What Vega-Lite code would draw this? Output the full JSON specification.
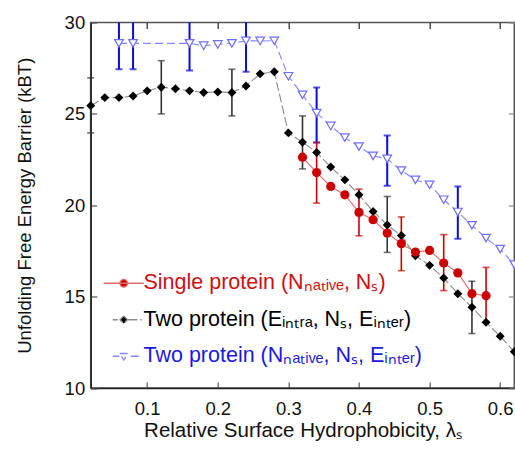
{
  "$schema": "https://vega.github.io/schema/vega-lite/v6.json",
  "width": 423.6,
  "height": 365.5,
  "autosize": {"type": "none"},
  "padding": {"left": 90.7, "top": 22.5, "right": 0.7, "bottom": 61},
  "background": "white",
  "config": {
    "view": {"stroke": "#555", "strokeWidth": 1.5},
    "font": "Liberation Sans",
    "axis": {"grid": false, "labelFont": "Liberation Sans", "titleFont": "Liberation Sans", "labelColor": "#111", "titleColor": "#111", "titleFontWeight": "normal", "domainColor": "#222", "domainWidth": 1.5, "tickColor": "#555", "tickWidth": 1.2}
  },
  "datasets": {
    "pts": [
      {"series": "single", "x": 0.32, "y": 22.63},
      {"series": "single", "x": 0.34, "y": 21.79, "lo": 20.12, "hi": 23.43},
      {"series": "single", "x": 0.36, "y": 21.03},
      {"series": "single", "x": 0.38, "y": 20.57},
      {"series": "single", "x": 0.40, "y": 19.61, "lo": 18.33, "hi": 20.88},
      {"series": "single", "x": 0.42, "y": 19.21},
      {"series": "single", "x": 0.44, "y": 18.48},
      {"series": "single", "x": 0.46, "y": 17.90, "lo": 16.42, "hi": 19.36},
      {"series": "single", "x": 0.48, "y": 17.44},
      {"series": "single", "x": 0.50, "y": 17.53},
      {"series": "single", "x": 0.52, "y": 16.84, "lo": 15.33, "hi": 18.39},
      {"series": "single", "x": 0.54, "y": 16.30},
      {"series": "single", "x": 0.56, "y": 15.16},
      {"series": "single", "x": 0.58, "y": 15.05, "lo": 13.62, "hi": 16.60},
      {"series": "two_e", "x": 0.02, "y": 25.45, "lo": 23.96, "hi": 26.97},
      {"series": "two_e", "x": 0.04, "y": 25.89},
      {"series": "two_e", "x": 0.06, "y": 25.89},
      {"series": "two_e", "x": 0.08, "y": 25.98},
      {"series": "two_e", "x": 0.10, "y": 26.26},
      {"series": "two_e", "x": 0.12, "y": 26.46, "lo": 25.0, "hi": 27.91},
      {"series": "two_e", "x": 0.14, "y": 26.38},
      {"series": "two_e", "x": 0.16, "y": 26.26},
      {"series": "two_e", "x": 0.18, "y": 26.17},
      {"series": "two_e", "x": 0.20, "y": 26.20},
      {"series": "two_e", "x": 0.22, "y": 26.17, "lo": 24.89, "hi": 27.44},
      {"series": "two_e", "x": 0.24, "y": 26.53},
      {"series": "two_e", "x": 0.26, "y": 27.19},
      {"series": "two_e", "x": 0.28, "y": 27.30},
      {"series": "two_e", "x": 0.30, "y": 23.96},
      {"series": "two_e", "x": 0.32, "y": 23.45, "lo": 21.99, "hi": 24.89},
      {"series": "two_e", "x": 0.34, "y": 22.89},
      {"series": "two_e", "x": 0.36, "y": 22.09},
      {"series": "two_e", "x": 0.38, "y": 21.39},
      {"series": "two_e", "x": 0.40, "y": 20.57},
      {"series": "two_e", "x": 0.42, "y": 19.66},
      {"series": "two_e", "x": 0.44, "y": 18.92, "lo": 17.42, "hi": 20.48},
      {"series": "two_e", "x": 0.46, "y": 18.34},
      {"series": "two_e", "x": 0.48, "y": 17.24},
      {"series": "two_e", "x": 0.50, "y": 16.71},
      {"series": "two_e", "x": 0.52, "y": 16.02},
      {"series": "two_e", "x": 0.54, "y": 15.16},
      {"series": "two_e", "x": 0.56, "y": 14.42, "lo": 12.98, "hi": 15.84},
      {"series": "two_e", "x": 0.58, "y": 13.60},
      {"series": "two_e", "x": 0.60, "y": 12.83},
      {"series": "two_e", "x": 0.62, "y": 11.98},
      {"series": "two_n", "x": 0.06, "y": 28.86, "lo": 27.44, "hi": 30.3},
      {"series": "two_n", "x": 0.08, "y": 28.86, "lo": 27.44, "hi": 30.3},
      {"series": "two_n", "x": 0.16, "y": 28.86, "lo": 27.37, "hi": 30.35},
      {"series": "two_n", "x": 0.18, "y": 28.73},
      {"series": "two_n", "x": 0.20, "y": 28.80},
      {"series": "two_n", "x": 0.22, "y": 28.86},
      {"series": "two_n", "x": 0.24, "y": 29.0, "lo": 27.3, "hi": 30.7},
      {"series": "two_n", "x": 0.26, "y": 28.99},
      {"series": "two_n", "x": 0.28, "y": 29.0},
      {"series": "two_n", "x": 0.30, "y": 27.06},
      {"series": "two_n", "x": 0.32, "y": 26.04},
      {"series": "two_n", "x": 0.34, "y": 25.04, "lo": 23.43, "hi": 26.44},
      {"series": "two_n", "x": 0.36, "y": 24.34},
      {"series": "two_n", "x": 0.38, "y": 23.70},
      {"series": "two_n", "x": 0.40, "y": 23.21},
      {"series": "two_n", "x": 0.42, "y": 22.70},
      {"series": "two_n", "x": 0.44, "y": 22.54, "lo": 21.07, "hi": 23.81},
      {"series": "two_n", "x": 0.46, "y": 21.90},
      {"series": "two_n", "x": 0.48, "y": 21.39},
      {"series": "two_n", "x": 0.50, "y": 21.12},
      {"series": "two_n", "x": 0.52, "y": 20.30},
      {"series": "two_n", "x": 0.54, "y": 19.63, "lo": 18.17, "hi": 21.03},
      {"series": "two_n", "x": 0.56, "y": 18.90},
      {"series": "two_n", "x": 0.58, "y": 18.20},
      {"series": "two_n", "x": 0.60, "y": 17.60},
      {"series": "two_n", "x": 0.62, "y": 16.75}
    ]
  },
  "data": {"name": "pts"},
  "resolve": {"axis": {"x": "independent", "y": "independent"}},
  "layer": [
    {
      "mark": {"type": "point", "opacity": 0},
      "encoding": {
        "x": {"field": "x", "type": "quantitative", "scale": {"domain": [0.02, 0.62], "nice": false, "zero": false},
              "axis": {"orient": "bottom", "values": [0.1, 0.2, 0.3, 0.4, 0.5, 0.6], "format": ".1f", "tickSize": -6, "labelPadding": 17, "labelFontSize": 18.5, "titleFontSize": 20.5, "titlePadding": 3, "title": "Relative Surface Hydrophobicity, λₛ"}},
        "y": {"field": "y", "type": "quantitative", "scale": {"domain": [10, 30], "nice": false, "zero": false},
              "axis": {"orient": "left", "values": [10, 15, 20, 25, 30], "tickSize": -6, "labelPadding": 12, "labelFontSize": 18.5, "titleFontSize": 18.5, "titleX": -56, "title": "Unfolding Free Energy Barrier (kBT)"}}
      }
    },
    {
      "mark": {"type": "point", "opacity": 0},
      "encoding": {
        "x": {"field": "x", "type": "quantitative", "axis": {"orient": "top", "values": [0.1, 0.2, 0.3, 0.4, 0.5, 0.6], "labels": false, "domain": false, "tickSize": -6, "tickColor": "#222", "title": null}},
        "y": {"field": "y", "type": "quantitative", "axis": {"orient": "right", "values": [10, 15, 20, 25, 30], "labels": false, "domain": false, "tickSize": -6, "tickColor": "#888", "title": null}}
      }
    },
    {
      "transform": [{"filter": "datum.series == 'two_n' && isValid(datum.lo)"}],
      "mark": {"type": "rule", "color": "#0a0ae0", "strokeWidth": 2, "clip": true},
      "encoding": {
        "x": {"field": "x", "type": "quantitative", "axis": null},
        "y": {"field": "lo", "type": "quantitative", "axis": null},
        "y2": {"field": "hi"}
      }
    },
    {
      "transform": [{"filter": "datum.series == 'two_n' && isValid(datum.lo)"}, {"fold": ["lo", "hi"], "as": ["end", "v"]}],
      "mark": {"type": "tick", "orient": "horizontal", "color": "#0a0ae0", "size": 7, "thickness": 2, "clip": true},
      "encoding": {
        "x": {"field": "x", "type": "quantitative", "axis": null},
        "y": {"field": "v", "type": "quantitative", "axis": null}
      }
    },
    {
      "mark": {"type": "line", "strokeWidth": 1.1},
      "encoding": {
        "x": {"field": "x", "type": "quantitative", "axis": null},
        "y": {"field": "y", "type": "quantitative", "axis": null},
        "detail": {"field": "series"},
        "strokeDash": {"field": "series", "type": "nominal", "legend": null, "scale": {"domain": ["single", "two_e", "two_n"], "range": [[1, 0], [9, 3], [8, 4]]}},
        "color": {"field": "series", "type": "nominal",
          "scale": {"domain": ["single", "two_e", "two_n"], "range": ["#e06a6a", "#8a8a8a", "#8585ff"]},
          "legend": {
            "orient": "none", "legendX": 22.3, "legendY": 250, "title": null, "padding": 0,
            "symbolSize": 100, "labelOffset": 9, "rowPadding": 13.5, "labelLimit": 0,
            "labelFontSize": 21.5, "labelFont": "Liberation Sans",
            "labelExpr": "datum.value == 'single' ? 'Single protein (Nₙₐₜᵢᵥₑ, Nₛ)' : datum.value == 'two_e' ? 'Two protein (Eᵢₙₜᵣₐ, Nₛ, Eᵢₙₜₑᵣ)' : 'Two protein (Nₙₐₜᵢᵥₑ, Nₛ, Eᵢₙₜₑᵣ)'",
            "encode": {
              "symbols": {"update": {
                "shape": {"signal": "datum.value == 'single' ? 'M-4,0H4M0.75,0A0.75,0.75 0 1 1 -0.75,0A0.75,0.75 0 1 1 0.75,0Z' : datum.value == 'two_e' ? 'M-2.2,0H-1.2M0.9,0H3.6M0,-0.75L0.75,0L0,0.75L-0.75,0Z' : 'M-2.2,0H-0.9M1.4,0H3.6M-0.8,-0.55L0.8,-0.55L0,0.75Z'"},
                "fill": {"signal": "datum.value == 'single' ? '#cc0000' : datum.value == 'two_e' ? '#000000' : '#ffffff'"},
                "stroke": {"signal": "datum.value == 'single' ? '#cc0000' : datum.value == 'two_e' ? '#000000' : '#1a1aee'"},
                "strokeWidth": {"value": 1.3},
                "strokeDash": {"value": [1, 0]},
                "opacity": {"value": 1},
                "fillOpacity": {"value": 1}
              }},
              "labels": {"update": {
                "fill": {"signal": "datum.value == 'single' ? '#cc1111' : datum.value == 'two_e' ? '#000000' : '#1a1add'"}
              }}
            }
          }
        }
      }
    },
    {
      "transform": [{"filter": "datum.series == 'two_e' && isValid(datum.lo)"}],
      "mark": {"type": "rule", "color": "#333333", "strokeWidth": 1.6},
      "encoding": {
        "x": {"field": "x", "type": "quantitative", "axis": null},
        "y": {"field": "lo", "type": "quantitative", "axis": null},
        "y2": {"field": "hi"}
      }
    },
    {
      "transform": [{"filter": "datum.series == 'two_e' && isValid(datum.lo)"}, {"fold": ["lo", "hi"], "as": ["end", "v"]}],
      "mark": {"type": "tick", "orient": "horizontal", "color": "#333333", "size": 7, "thickness": 1.6},
      "encoding": {
        "x": {"field": "x", "type": "quantitative", "axis": null},
        "y": {"field": "v", "type": "quantitative", "axis": null}
      }
    },
    {
      "transform": [{"filter": "datum.series == 'single' && isValid(datum.lo)"}],
      "mark": {"type": "rule", "color": "#cc0000", "strokeWidth": 1.6},
      "encoding": {
        "x": {"field": "x", "type": "quantitative", "axis": null},
        "y": {"field": "lo", "type": "quantitative", "axis": null},
        "y2": {"field": "hi"}
      }
    },
    {
      "transform": [{"filter": "datum.series == 'single' && isValid(datum.lo)"}, {"fold": ["lo", "hi"], "as": ["end", "v"]}],
      "mark": {"type": "tick", "orient": "horizontal", "color": "#cc0000", "size": 7, "thickness": 1.6},
      "encoding": {
        "x": {"field": "x", "type": "quantitative", "axis": null},
        "y": {"field": "v", "type": "quantitative", "axis": null}
      }
    },
    {
      "transform": [{"filter": "datum.series == 'two_n'"}],
      "mark": {"type": "point", "shape": "triangle-down", "size": 75, "filled": false, "stroke": "#6e6eff", "strokeWidth": 1.2, "fill": "white", "fillOpacity": 1, "opacity": 1},
      "encoding": {
        "x": {"field": "x", "type": "quantitative", "axis": null},
        "y": {"field": "y", "type": "quantitative", "axis": null}
      }
    },
    {
      "transform": [{"filter": "datum.series == 'two_e'"}],
      "mark": {"type": "point", "shape": "diamond", "size": 80, "filled": true, "color": "#000000", "opacity": 1},
      "encoding": {
        "x": {"field": "x", "type": "quantitative", "axis": null},
        "y": {"field": "y", "type": "quantitative", "axis": null}
      }
    },
    {
      "transform": [{"filter": "datum.series == 'single'"}],
      "mark": {"type": "point", "shape": "circle", "size": 85, "filled": true, "color": "#cc0000", "opacity": 1},
      "encoding": {
        "x": {"field": "x", "type": "quantitative", "axis": null},
        "y": {"field": "y", "type": "quantitative", "axis": null}
      }
    }
  ]
}
